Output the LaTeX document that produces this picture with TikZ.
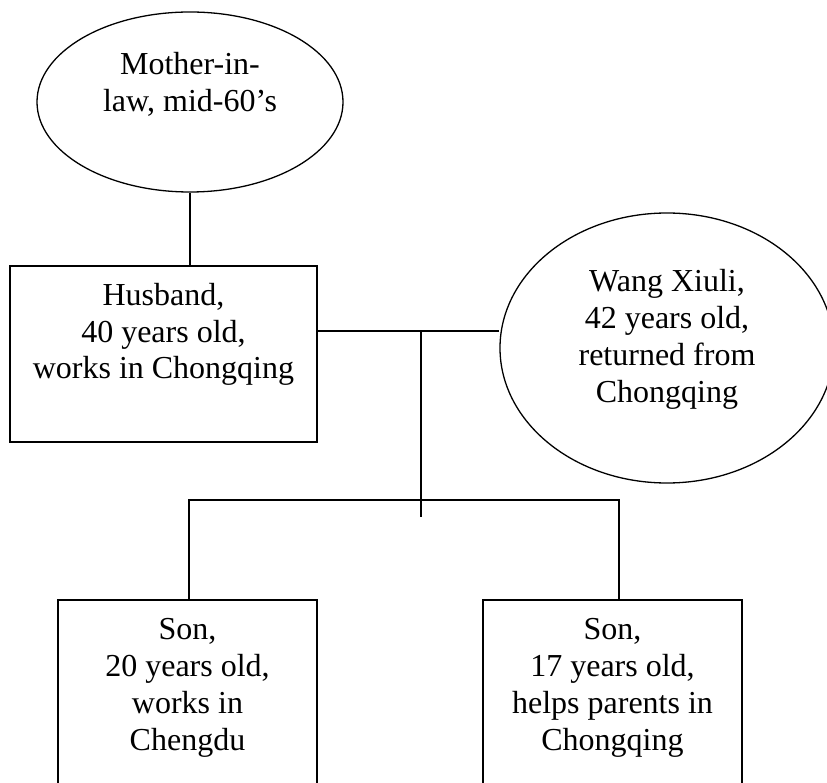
\documentclass[tikz,border=0pt]{standalone}
\usepackage{fontspec}
\setmainfont{Liberation Serif}
\usetikzlibrary{shapes.geometric}
\newcommand{\famtext}[4][13.5pt]{\parbox[c][#3][t]{#2}{\centering\vspace*{#1}\strut #4}}

\begin{document}
\begin{tikzpicture}[x=1pt, y=-1pt,
    person/.style={draw, line width=1.3pt, inner sep=0pt, font=\fontsize{32}{36.8}\selectfont},
    box/.style={person, rectangle},
    oval/.style={person, ellipse},
    link/.style={line width=1.3pt}]
			%%%%% START %%%%%
			\clip (0,0) rectangle (827,783);
			
			\node[oval, minimum width=306pt, minimum height=180pt] (mom) at (190,102)
				{\famtext[0pt]{200pt}{105.6pt}{Mother-in-\\law, mid-60’s}};
			\node[box] (hus) at (163.5,354)
				{\famtext{307pt}{176pt}{Husband,\\40 years old,\\works in Chongqing}};
			\node[oval, minimum width=334pt, minimum height=270pt] (wang) at (667,348)
				{\famtext[0pt]{190pt}{163.6pt}{Wang Xiuli,\\42 years old,\\returned from\\Chongqing}};
			
			\node[box] (sonA) at (187.5,705)
				{\famtext[14pt]{259pt}{210pt}{Son,\\20 years old,\\works in\\Chengdu}};
			\node[box] (sonB) at (612.5,705)
				{\famtext[14pt]{259pt}{210pt}{Son,\\17 years old,\\helps parents in\\Chongqing}};
			
			\coordinate (join) at (421,331);
			\coordinate (tick) at (421,517);
			\coordinate (armA) at (189,500);
			\coordinate (armB) at (619,500);
			
			\draw[link] (mom.south) -- (mom.south |- hus.north);
			\draw[link] (hus.east |- join) -- (wang.west |- join);
			\draw[link] (join) -- (tick);
			\draw[link] (armA |- sonA.north) -- (armA) -- (armB) -- (armB |- sonB.north);
			%%%%% END %%%%%
\end{tikzpicture}
\end{document}
